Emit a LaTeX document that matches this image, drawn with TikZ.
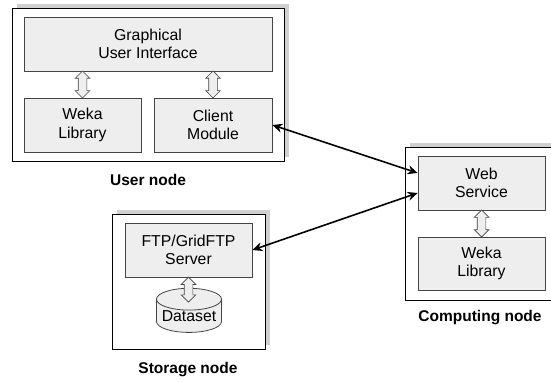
\documentclass[tikz,border=0pt]{standalone}
\usepackage{fontspec}
\setmainfont{Liberation Sans}
\usetikzlibrary{arrows.meta}
\usetikzlibrary{shapes.geometric}
\usetikzlibrary{shapes.arrows}
\usetikzlibrary{shadows}
\definecolor{boxfill}{HTML}{EEEEEE}
\definecolor{shadowgray}{HTML}{D0D0D0}
\definecolor{boxline}{HTML}{444444}
\begin{document}
\begin{tikzpicture}[x=1pt, y=-1pt,
        font=\fontsize{15.8}{18.7}\selectfont,
        hostbox/.style={draw=black, fill=white, line width=0.8pt, inner sep=0pt,
            drop shadow={shadow xshift=5pt, shadow yshift=4pt, fill=shadowgray, opacity=1}},
        modbox/.style={draw=boxline, fill=boxfill, line width=0.8pt, align=center,
            inner sep=0pt, minimum width=127pt, minimum height=54pt},
        hostlabel/.style={font=\fontsize{15.5}{18.6}\selectfont\bfseries},
        fatarrow/.style={double arrow, draw=boxline, fill=boxfill, line width=0.7pt, rotate=90,
            inner sep=0pt, inner ysep=4pt, double arrow head extend=3pt,
            minimum height=27pt},
        link/.style={{Stealth[length=10pt,width=9pt]}-{Stealth[length=10pt,width=9pt]}, line width=1.6pt}]
    \useasboundingbox (0,0) rectangle (551,382);
    % user node
    \node[hostbox, minimum width=272pt, minimum height=153pt] (user) at (148,84.5) {};
    \node[modbox, minimum width=248pt] (gui) at (148,44) {Graphical\\User Interface};
    \node[modbox, minimum width=117pt] (wekaA) at (82.5,125) {Weka\\Library};
    \node[modbox, minimum width=118pt] (client) at (213,125) {Client\\Module};
    \node[hostlabel] (userlbl) at (148,180) {User node};
    % storage node
    \node[hostbox, minimum width=153pt, minimum height=135pt] (storage) at (188.5,281.5) {};
    \node[modbox] (ftp) at (188.5,250) {FTP/GridFTP\\Server};
    \node[cylinder, shape border rotate=90, aspect=0.4, draw=boxline, fill=boxfill, line width=0.8pt,
        minimum width=65pt, minimum height=42pt, inner sep=0pt] (data) at (189,316) {Dataset};
    \node[hostlabel] (storagelbl) at (188,370) {Storage node};
    % computing node
    \node[hostbox, minimum width=155pt, minimum height=153pt] (compute) at (482.5,223.5) {};
    \node[modbox] (web) at (481.5,183) {Web\\Service};
    \node[modbox, minimum height=53pt] (wekaB) at (481.5,263.5) {Weka\\Library};
    \node[hostlabel] (computelbl) at (480,318) {Computing node};
    % hollow arrows
    \coordinate (dtop) at (188.5,302);
    \path (wekaA.north |- gui.south) -- (wekaA.north) node[midway, fatarrow] (a1) {};
    \path (client.north |- gui.south) -- (client.north) node[midway, fatarrow] (a2) {};
    \path (web.south) -- (wekaB.north) node[midway, fatarrow] (a3) {};
    \path (ftp.south) -- (dtop) node[midway, fatarrow, minimum height=25pt] (a4) {};
    % links
    \draw[link] (client.east) -- ([yshift=10pt]web.west);
    \draw[link] (ftp.east) -- ([yshift=-10pt]web.west);
\end{tikzpicture}
\end{document}
